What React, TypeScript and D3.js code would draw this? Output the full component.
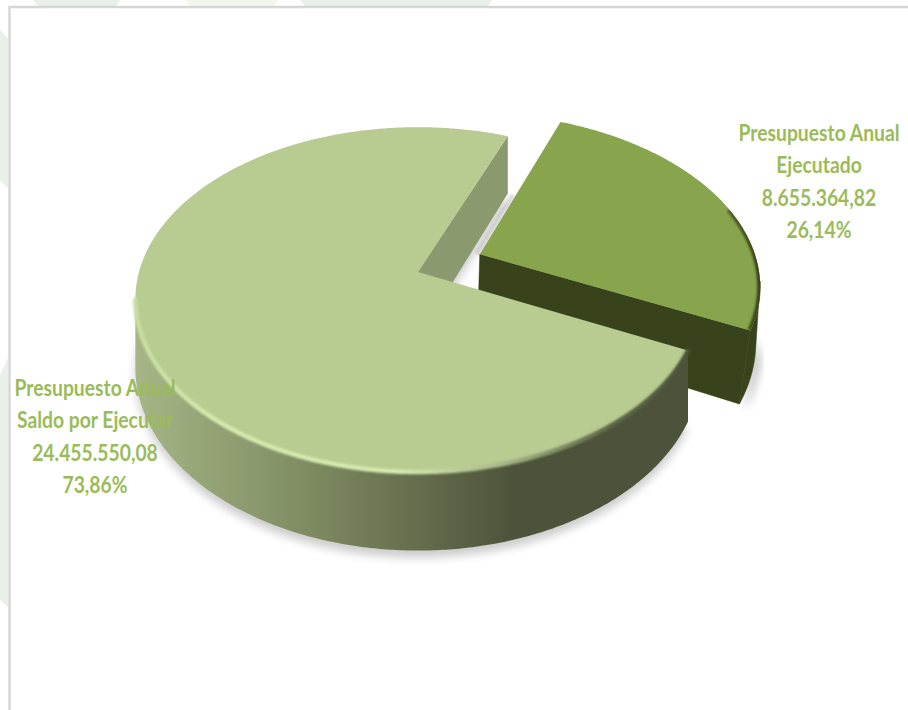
import React from "react";
import * as d3 from "d3";

const categories = ["Presupuesto Anual Saldo por Ejecutar", "Presupuesto Anual Ejecutado"];
const budgetValues = [24455550.08, 8655364.82];
const saldoLabel = ["Presupuesto Anual", "Saldo por Ejecutar", "24.455.550,08", "73,86%"];
const ejecutadoLabel = ["Presupuesto Anual", "Ejecutado", "8.655.364,82", "26,14%"];

const W = 908, H = 710;
const CX = 418, CY = 272;
const SX = 279, SY = 168, PERSP = 0.16, DEPTH = 66, EXPLODE = 0.245;
const SMALL_DEPTH = 1.05, SMALL_TAPER = 0.033;
const START = (115.8 * Math.PI) / 180;
const LABEL_COLOR = "#9bbb59";

type P = [number, number];
const project = (u: number, v: number, z = 0): P => {
  const w = 1 - PERSP * v;
  return [CX + (SX * u) / w, CY + (SY * v + z * DEPTH) / w];
};
const line = d3.line<P>().x((d) => d[0]).y((d) => d[1]);

const arcs = d3.pie<number>().sort(null).value((d) => d).startAngle(START).endAngle(START + 2 * Math.PI)(budgetValues);

// taper narrows the rim towards its lower edge; it grows from a0 to a1 when taperGrow is on
const sample = (a0: number, a1: number, offset: P, z = 0, taper = 0, taperGrow = false): P[] => {
  const n = Math.max(2, Math.ceil(Math.abs(a1 - a0) / 0.01));
  return d3.range(n + 1).map((i) => {
    const t = i / n;
    const a = a0 + (a1 - a0) * t;
    const k = 1 - taper * (taperGrow ? 0.4 + 0.6 * t : 1);
    return project((Math.sin(a) + offset[0]) * k, -Math.cos(a) + offset[1], z);
  });
};
const pathOf = (pts: P[], close = true) => (line(pts) as string) + (close ? "Z" : "");

const big = arcs[0];
const small = arcs[1];
const mid = (small.startAngle + small.endAngle) / 2;
const off: P = [Math.sin(mid) * EXPLODE, -Math.cos(mid) * EXPLODE];
const none: P = [0, 0];
const silhouette = Math.asin(PERSP);
const leftSil = 1.5 * Math.PI - silhouette; // left widest point of the rim
const rightSil = 2.5 * Math.PI + silhouette; // right widest point, on the same turn as the exploded slice

// Large slice
const bigEdge = sample(big.startAngle, big.endAngle, none);
const bigTop = pathOf([project(0, 0), ...bigEdge]);
const bigSide = pathOf([
  ...sample(big.startAngle, leftSil, none, 0),
  ...sample(leftSil, big.startAngle, none, 1),
]);
const bigShadow = pathOf([project(0, 0, 1), ...sample(big.startAngle, big.endAngle, none, 1)]);
const bigEnd = sample(big.endAngle, big.endAngle, none)[0];
const bigEndBottom = sample(big.endAngle, big.endAngle, none, 1)[0];
const bigBack = pathOf([project(0, 0), bigEnd, bigEndBottom, project(0, 0, 1)]);
const bigFrontEdge = pathOf(sample(big.startAngle, leftSil, none), false);

// Exploded slice
const smallEdge = sample(small.startAngle, small.endAngle, off);
const apex = project(off[0], off[1]);
const apexBottom = project(off[0] * (1 - SMALL_TAPER), off[1], SMALL_DEPTH);
const smallTop = pathOf([apex, ...smallEdge]);
const smallBack = sample(small.startAngle, small.startAngle, off)[0];
const smallEnd1 = sample(small.endAngle, small.endAngle, off)[0];
const smallSideBottom = sample(rightSil, small.endAngle, off, SMALL_DEPTH, SMALL_TAPER, true);
const smallEnd1B = smallSideBottom[smallSideBottom.length - 1];
const smallCut = pathOf([apex, smallEnd1, smallEnd1B, apexBottom]);
const smallSide = pathOf([...sample(rightSil, small.endAngle, off, 0), ...[...smallSideBottom].reverse()]);
const smallShadow = pathOf([smallEnd1, ...[...smallSideBottom].reverse()]);
const smallRimEdge = pathOf(sample(small.startAngle + 0.9, small.endAngle, off), false);
const backShade: P = [smallBack[0] + (apex[0] - smallBack[0]) * 0.55, smallBack[1] + (apex[1] - smallBack[1]) * 0.55];

const watermarkTop: [number, number][] = [[33, 120], [185, 278], [300, 492]];
const watermarkLeft: [number, number][] = [[30, 188], [350, 607]];

const Label = ({ lines, cx, y0, sx }: { lines: string[]; cx: number; y0: number; sx: number }) => (
  <g transform={`translate(${cx},0) scale(${sx},1)`} fontFamily="Lato" fontWeight={700} fontSize={23} fill={LABEL_COLOR} textAnchor="middle">
    {lines.map((t, i) => (
      <text key={i} x={0} y={y0 + i * 32.3}>{t}</text>
    ))}
  </g>
);

export default function App() {
  return (
    <svg width={W} height={H} viewBox={`0 0 ${W} ${H}`} style={{ position: "absolute", left: 0, top: 0, background: "#fff" }} aria-label={categories.join(", ")}>
      <defs>
        <linearGradient id="bigRim" gradientUnits="userSpaceOnUse" x1={134} x2={515} y1={0} y2={0}>
          <stop offset="0" stopColor="#a6b687" />
          <stop offset="0.45" stopColor="#7f8c62" />
          <stop offset="1" stopColor="#4c533a" />
        </linearGradient>
        <linearGradient id="bigBevel" gradientUnits="userSpaceOnUse" x1={134} x2={687} y1={0} y2={0}>
          <stop offset="0" stopColor="#c8dda0" />
          <stop offset="0.15" stopColor="#d4eaae" />
          <stop offset="0.48" stopColor="#d4eaae" />
          <stop offset="0.66" stopColor="#a9b98a" />
          <stop offset="0.85" stopColor="#5f6a49" />
          <stop offset="1" stopColor="#4c533a" />
        </linearGradient>
        <linearGradient id="smallBevel" gradientUnits="userSpaceOnUse" x1={640} x2={758} y1={0} y2={0}>
          <stop offset="0" stopColor="#88a44c" stopOpacity={0} />
          <stop offset="0.6" stopColor="#5d7233" />
          <stop offset="1" stopColor="#38431c" />
        </linearGradient>
        <filter id="soft" x="-20%" y="-20%" width="140%" height="140%"><feGaussianBlur stdDeviation="1.3" /></filter>
        <filter id="shadow" x="-20%" y="-20%" width="140%" height="140%"><feGaussianBlur stdDeviation="5" /></filter>
        <clipPath id="smallClip"><path d={smallTop} /></clipPath>
      </defs>

      {watermarkTop.map(([a, b], i) => (
        <path key={i} d={`M${a},0L${b},0L${b - 4},6L${a + 5},6Z`} fill={i === 1 ? "#f3f6ec" : "#e9efe9"} />
      ))}
      {watermarkLeft.map(([a, b], i) => (
        <path key={i} d={`M0,${a + (i ? 25 : 0)}L8,${a + 8}L8,${b}L0,${b - 7}Z`} fill="#e9efe9" />
      ))}
      <path d={`M9.5,${H}V7H${W}`} fill="none" stroke="#d6d6d6" strokeWidth={2.4} />

      <path d={bigShadow} fill="#000" opacity={0.2} filter="url(#shadow)" transform="translate(0,7)" />

      <path d={bigBack} fill="#8b9a6e" />

      <g transform="translate(-1,-3)">
        <path d={smallShadow} fill="#000" opacity={0.26} filter="url(#shadow)" transform="translate(5,7)" />
        <path d={pathOf([backShade, apex], false)} fill="none" stroke="#000" strokeOpacity={0.12} strokeWidth={5} filter="url(#soft)" transform="translate(-3,0)" />
        <path d={smallCut} fill="#38431c" stroke="#38431c" strokeWidth={0.6} />
        <path d={smallSide} fill="#38431c" stroke="#38431c" strokeWidth={0.6} />
        <path d={smallTop} fill="#88a44c" />
        <g clipPath="url(#smallClip)">
          <path d={smallRimEdge} fill="none" stroke="url(#smallBevel)" strokeWidth={6} filter="url(#soft)" />
        </g>
      </g>

      <path d={bigSide} fill="url(#bigRim)" />
      <path d={bigTop} fill="#b8cb91" />
      <path d={bigFrontEdge} fill="none" stroke="url(#bigBevel)" strokeWidth={4.5} strokeLinecap="round" filter="url(#soft)" />

      <Label lines={ejecutadoLabel} cx={819} y0={141} sx={0.84} />
      <Label lines={saldoLabel} cx={95} y0={396} sx={0.84} />
    </svg>
  );
}
